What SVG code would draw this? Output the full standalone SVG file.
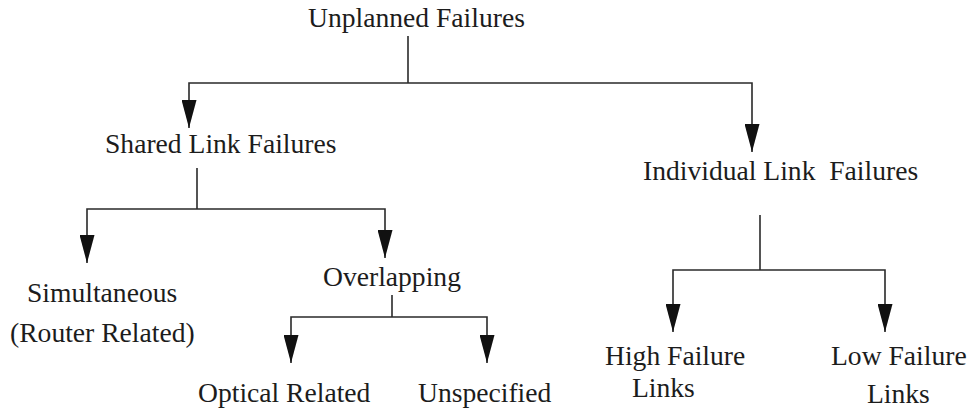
<svg xmlns="http://www.w3.org/2000/svg" width="973" height="414" viewBox="0 0 973 414">
  <style>
    .lbl { font-family: "Liberation Serif", "Times New Roman", serif; font-size: 27.6px; fill: #1c1c1c; white-space: pre; }
    .wire { fill: none; stroke: #2a2a2a; stroke-width: 1.6; }
    .arrow { fill: none; stroke: #2a2a2a; stroke-width: 1.6; marker-end: url(#head); }
  </style>
  <defs>
    <marker id="head" markerUnits="userSpaceOnUse" markerWidth="28" markerHeight="15" refX="28" refY="7.5" orient="auto">
      <path d="M0,0 L28,7.5 L0,15 Z" fill="#111"/>
    </marker>
  </defs>
  <rect width="973" height="414" fill="#fff"/>

  <g id="connectors">
    <!-- Unplanned Failures split -->
    <path class="wire" d="M408,36 V83"/>
    <path class="arrow" d="M408,83 H189 V128"/>
    <path class="arrow" d="M408,83 H752 V152"/>
    <!-- Shared Link Failures split -->
    <path class="wire" d="M197,168 V209"/>
    <path class="arrow" d="M197,209 H87 V263"/>
    <path class="arrow" d="M197,209 H385 V258"/>
    <!-- Overlapping split -->
    <path class="wire" d="M392,295 V317"/>
    <path class="arrow" d="M392,317 H291 V363"/>
    <path class="arrow" d="M392,317 H487 V363"/>
    <!-- Individual Link Failures split -->
    <path class="wire" d="M760,215 V270"/>
    <path class="arrow" d="M760,270 H673 V332"/>
    <path class="arrow" d="M760,270 H885 V332"/>
  </g>

  <g id="unplanned">
    <text class="lbl" x="308" y="27">Unplanned Failures</text>
  </g>
  <g id="shared">
    <text class="lbl" x="105" y="153">Shared Link Failures</text>
  </g>
  <g id="individual">
    <text class="lbl" x="643" y="180">Individual Link  Failures</text>
  </g>
  <g id="simultaneous">
    <text class="lbl" x="27" y="302">Simultaneous</text>
    <text class="lbl" x="10" y="342">(Router Related)</text>
  </g>
  <g id="overlapping">
    <text class="lbl" x="323" y="286">Overlapping</text>
  </g>
  <g id="optical">
    <text class="lbl" x="198" y="402">Optical Related</text>
  </g>
  <g id="unspecified">
    <text class="lbl" x="418" y="402">Unspecified</text>
  </g>
  <g id="high">
    <text class="lbl" x="605" y="365">High Failure</text>
    <text class="lbl" x="632" y="397">Links</text>
  </g>
  <g id="low">
    <text class="lbl" x="831" y="365">Low Failure</text>
    <text class="lbl" x="867" y="403">Links</text>
  </g>
</svg>
